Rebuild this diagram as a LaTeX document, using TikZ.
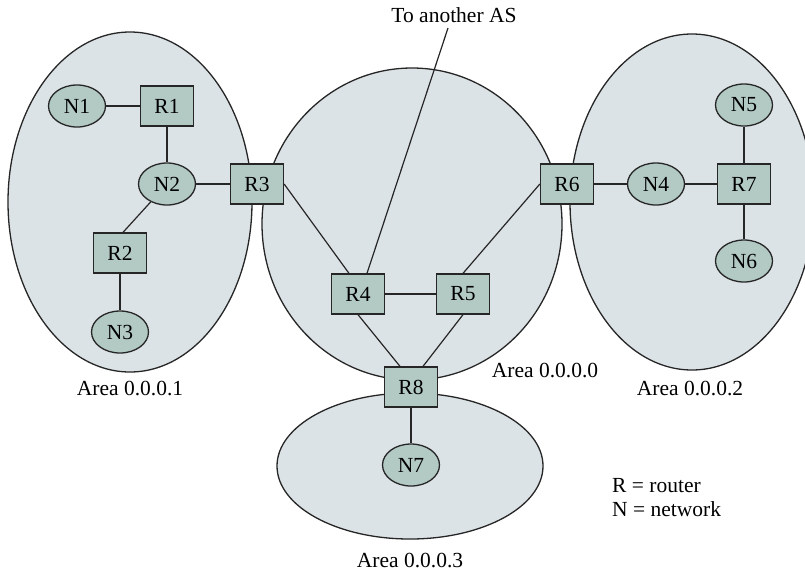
\documentclass[tikz,border=0pt]{standalone}
\usepackage{fontspec}
\setmainfont{Liberation Serif}
\usetikzlibrary{shapes.geometric}
\definecolor{areafill}{RGB}{220,227,230}
\definecolor{nodefill}{RGB}{178,201,196}
\begin{document}
\begin{tikzpicture}[x=1pt,y=-1pt,
  every node/.style={font=\fontsize{21.5}{25}\selectfont},
  area/.style={draw=black!85,line width=1.3pt,fill=areafill},
  router/.style={draw=black!85,line width=1.3pt,fill=nodefill,minimum width=53pt,minimum height=40pt,inner sep=0pt},
  net/.style={ellipse,draw=black!85,line width=1.3pt,fill=nodefill,minimum width=57pt,minimum height=42pt,inner sep=0pt},
  link/.style={draw=black!85,line width=1.2pt},
  lbl/.style={inner sep=0pt}]
\path[use as bounding box,fill=white] (0,0) rectangle (805,571);
% areas
\path[area] (130,202) ellipse [x radius=122,y radius=170];
\path[area] (412,224) ellipse [x radius=150,y radius=156];
\path[area] (692,202) ellipse [x radius=122,y radius=168];
\path[area] (410,466) ellipse [x radius=133,y radius=73];
% nodes
\node[net] (N1) at (77,106) {N1};
\node[router] (R1) at (167,106) {R1};
\node[net] (N2) at (167,184) {N2};
\node[router] (R3) at (257,184) {R3};
\node[router] (R2) at (120,253) {R2};
\node[net] (N3) at (120,332) {N3};
\node[router] (R4) at (358,294) {R4};
\node[router] (R5) at (463,294) {R5};
\node[router] (R6) at (567,184) {R6};
\node[router] (R8) at (411,387) {R8};
\node[net] (N7) at (411,465) {N7};
\node[net] (N4) at (656,184) {N4};
\node[router] (R7) at (744,184) {R7};
\node[net] (N5) at (744,105) {N5};
\node[net] (N6) at (744,261) {N6};
% labels
\node[lbl] (AS) at (454,15) {To another AS};
\coordinate (ASend) at (448,28);
\node[lbl] (A1) at (130,388) {Area 0.0.0.1};
\node[lbl] (A0) at (545,370) {Area 0.0.0.0};
\node[lbl] (A2) at (690,388) {Area 0.0.0.2};
\node[lbl] (A3) at (410,560) {Area 0.0.0.3};
\node[lbl,anchor=west] (LR) at (612,486) {R = router};
\node[lbl,anchor=west] (LN) at (612,509) {N = network};
% links
\draw[link] (N1) -- (R1);
\draw[link] (R1) -- (N2);
\draw[link] (N2) -- (R3);
\draw[link] (N2) -- ([xshift=3pt]R2.north);
\draw[link] (R2) -- (N3);
\draw[link] (R3.east) -- ([xshift=-9pt]R4.north);
\draw[link] (ASend) -- ([xshift=9pt]R4.north);
\draw[link] (R4) -- (R5);
\draw[link] (R5.north) -- (R6.west);
\draw[link] (R4.south) -- ([xshift=-11pt]R8.north);
\draw[link] (R5.south) -- ([xshift=12pt]R8.north);
\draw[link] (R8) -- (N7);
\draw[link] (R6) -- (N4);
\draw[link] (N4) -- (R7);
\draw[link] (R7) -- (N5);
\draw[link] (R7) -- (N6);
\end{tikzpicture}
\end{document}
